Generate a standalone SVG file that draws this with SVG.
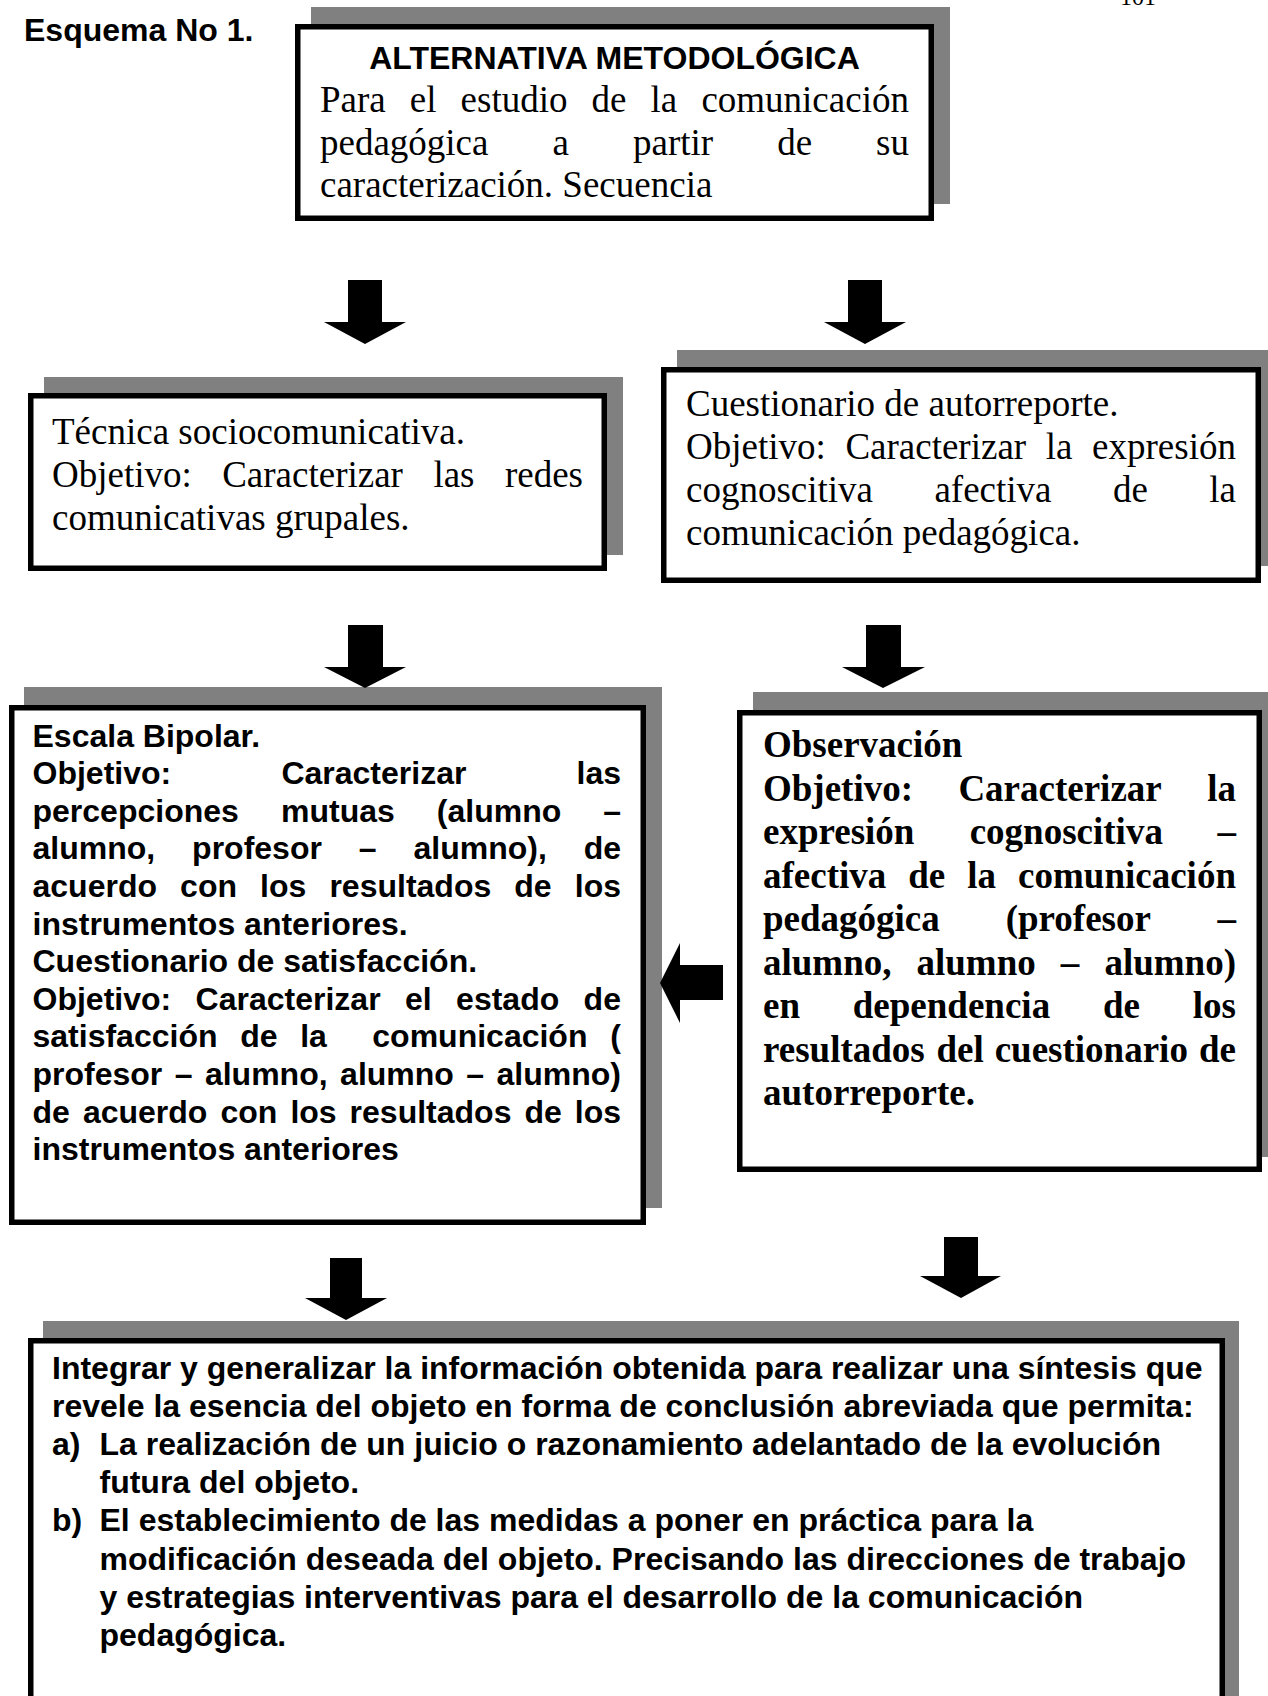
<svg xmlns="http://www.w3.org/2000/svg" width="1268" height="1696" viewBox="0 0 1268 1696">
<style>
.sh{fill:#808080}
.bx{fill:#fff;stroke:#000;stroke-width:5.5}
.ab{font-family:"Liberation Sans",Arial,sans-serif;font-weight:bold;font-size:32px;fill:#000}
.tr{font-family:"Liberation Serif","Times New Roman",serif;font-size:37px;fill:#000}
.tb{font-family:"Liberation Serif","Times New Roman",serif;font-weight:bold;font-size:37px;fill:#000}
.pg{font-family:"Liberation Serif","Times New Roman",serif;font-size:24px;fill:#000}
.ar{fill:#000}
</style>
<rect width="1268" height="1696" fill="#fff"/>
<text class="pg" x="1120" y="5">101</text>
<text class="ab" x="24" y="41">Esquema No 1.</text>

<g id="node-alternativa">
<rect class="sh" x="311" y="7" width="639" height="197"/>
<rect class="bx" x="297.75" y="26.75" width="633.5" height="191.5"/>
<text class="ab" x="614.5" y="69" text-anchor="middle">ALTERNATIVA METODOLÓGICA</text>
<text class="tr" y="112"><tspan x="320">Para</tspan><tspan x="409.8">el</tspan><tspan x="460.6">estudio</tspan><tspan x="591.6">de</tspan><tspan x="650.6">la</tspan><tspan x="701.4">comunicación</tspan></text>
<text class="tr" y="154.5"><tspan x="320">pedagógica</tspan><tspan x="552.6">a</tspan><tspan x="633">partir</tspan><tspan x="777.2">de</tspan><tspan x="876.1">su</tspan></text>
<text class="tr" x="320" y="197">caracterización. Secuencia</text>
</g>

<g id="node-tecnica">
<rect class="sh" x="44" y="377" width="579" height="178"/>
<rect class="bx" x="30.75" y="395.75" width="573.5" height="172.5"/>
<text class="tr" x="52" y="444">Técnica sociocomunicativa.</text>
<text class="tr" y="487"><tspan x="52">Objetivo:</tspan><tspan x="222.2">Caracterizar</tspan><tspan x="433.4">las</tspan><tspan x="504.9">redes</tspan></text>
<text class="tr" x="52" y="530">comunicativas grupales.</text>
</g>

<g id="node-cuestionario">
<rect class="sh" x="677" y="350" width="600" height="216"/>
<rect class="bx" x="663.75" y="369.75" width="594.5" height="210.5"/>
<text class="tr" x="686" y="416">Cuestionario de autorreporte.</text>
<text class="tr" y="459"><tspan x="686">Objetivo:</tspan><tspan x="845.4">Caracterizar</tspan><tspan x="1045.8">la</tspan><tspan x="1092.1">expresión</tspan></text>
<text class="tr" y="502"><tspan x="686">cognoscitiva</tspan><tspan x="934.4">afectiva</tspan><tspan x="1112.9">de</tspan><tspan x="1209.3">la</tspan></text>
<text class="tr" x="686" y="545">comunicación pedagógica.</text>
</g>

<g id="node-escala">
<rect class="sh" x="24" y="687" width="638" height="521"/>
<rect class="bx" x="11.75" y="707.75" width="631.5" height="514.5"/>
<text class="ab" x="32.5" y="746.5">Escala Bipolar.</text>
<text class="ab" y="784.1"><tspan x="32.5">Objetivo:</tspan><tspan x="281.4">Caracterizar</tspan><tspan x="576.5">las</tspan></text>
<text class="ab" y="821.7"><tspan x="32.5">percepciones</tspan><tspan x="281">mutuas</tspan><tspan x="436.8">(alumno</tspan><tspan x="603.2">–</tspan></text>
<text class="ab" y="859.3"><tspan x="32.5">alumno,</tspan><tspan x="192.1">profesor</tspan><tspan x="358.8">–</tspan><tspan x="413.5">alumno),</tspan><tspan x="583.7">de</tspan></text>
<text class="ab" y="896.9"><tspan x="32.5">acuerdo</tspan><tspan x="180.1">con</tspan><tspan x="260.1">los</tspan><tspan x="329.4">resultados</tspan><tspan x="514.3">de</tspan><tspan x="574.8">los</tspan></text>
<text class="ab" x="32.5" y="934.5">instrumentos anteriores.</text>
<text class="ab" x="32.5" y="972.1">Cuestionario de satisfacción.</text>
<text class="ab" y="1009.7"><tspan x="32.5">Objetivo:</tspan><tspan x="195.6">Caracterizar</tspan><tspan x="405">el</tspan><tspan x="456.1">estado</tspan><tspan x="583.6">de</tspan></text>
<text class="ab" y="1047.3"><tspan x="32.5">satisfacción</tspan><tspan x="240.2">de</tspan><tspan x="300.2">la</tspan><tspan x="372.3">comunicación</tspan><tspan x="610.3">(</tspan></text>
<text class="ab" y="1084.9"><tspan x="32.5">profesor</tspan><tspan x="174.7">–</tspan><tspan x="204.9">alumno,</tspan><tspan x="340.1">alumno</tspan><tspan x="466.3">–</tspan><tspan x="496.5">alumno)</tspan></text>
<text class="ab" y="1122.5"><tspan x="32.5">de</tspan><tspan x="82.9">acuerdo</tspan><tspan x="220.4">con</tspan><tspan x="290.4">los</tspan><tspan x="349.6">resultados</tspan><tspan x="524.5">de</tspan><tspan x="574.8">los</tspan></text>
<text class="ab" x="32.5" y="1160.1">instrumentos anteriores</text>
</g>

<g id="node-observacion">
<rect class="sh" x="753" y="692" width="525" height="465"/>
<rect class="bx" x="739.75" y="712.75" width="519.5" height="456.5"/>
<text class="tb" x="763" y="757">Observación</text>
<text class="tb" y="800.5"><tspan x="763">Objetivo:</tspan><tspan x="958.4">Caracterizar</tspan><tspan x="1207.2">la</tspan></text>
<text class="tb" y="844"><tspan x="763">expresión</tspan><tspan x="969.7">cognoscitiva</tspan><tspan x="1217.5">–</tspan></text>
<text class="tb" y="887.5"><tspan x="763">afectiva</tspan><tspan x="908.3">de</tspan><tspan x="967.3">la</tspan><tspan x="1018.1">comunicación</tspan></text>
<text class="tb" y="931"><tspan x="763">pedagógica</tspan><tspan x="1005.7">(profesor</tspan><tspan x="1217.5">–</tspan></text>
<text class="tb" y="974.5"><tspan x="763">alumno,</tspan><tspan x="916.5">alumno</tspan><tspan x="1060.8">–</tspan><tspan x="1104.4">alumno)</tspan></text>
<text class="tb" y="1018"><tspan x="763">en</tspan><tspan x="852.8">dependencia</tspan><tspan x="1103">de</tspan><tspan x="1192.8">los</tspan></text>
<text class="tb" y="1061.5"><tspan x="763">resultados</tspan><tspan x="936.4">del</tspan><tspan x="994.7">cuestionario</tspan><tspan x="1198.9">de</tspan></text>
<text class="tb" x="763" y="1105">autorreporte.</text>
</g>

<g id="node-integrar">
<rect class="sh" x="43" y="1321" width="1196" height="400"/>
<rect class="bx" x="30.75" y="1340.75" width="1191.5" height="390"/>
<text class="ab" x="52" y="1379">Integrar y generalizar la información obtenida para realizar una síntesis que</text>
<text class="ab" x="52" y="1417.1">revele la esencia del objeto en forma de conclusión abreviada que permita:</text>
<text class="ab" x="52" y="1455.2">a)</text>
<text class="ab" x="99.5" y="1455.2">La realización de un juicio o razonamiento adelantado de la evolución</text>
<text class="ab" x="99.5" y="1493.3">futura del objeto.</text>
<text class="ab" x="52" y="1531.4">b)</text>
<text class="ab" x="99.5" y="1531.4">El establecimiento de las medidas a poner en práctica para la</text>
<text class="ab" x="99.5" y="1569.5">modificación deseada del objeto. Precisando las direcciones de trabajo</text>
<text class="ab" x="99.5" y="1607.6">y estrategias interventivas para el desarrollo de la comunicación</text>
<text class="ab" x="99.5" y="1645.7">pedagógica.</text>
</g>

<g id="connectors">
<polygon class="ar" points="348,280 382,280 382,322 406,322 365,344 324,322 348,322"/>
<polygon class="ar" points="848,280 882,280 882,322 906,322 865,344 824,322 848,322"/>
<polygon class="ar" points="348,625 383,625 383,667 406,667 365,688 324,667 348,667"/>
<polygon class="ar" points="866,625 901,625 901,667 925,667 883,688 842,667 866,667"/>
<polygon class="ar" points="723,965 723,1000 680,1000 680,1023 660,983 680,943 680,965"/>
<polygon class="ar" points="330,1258 362,1258 362,1298 387,1298 346,1320 305,1298 330,1298"/>
<polygon class="ar" points="944,1237 978,1237 978,1276 1001,1276 961,1298 920,1276 944,1276"/>
</g>
</svg>
